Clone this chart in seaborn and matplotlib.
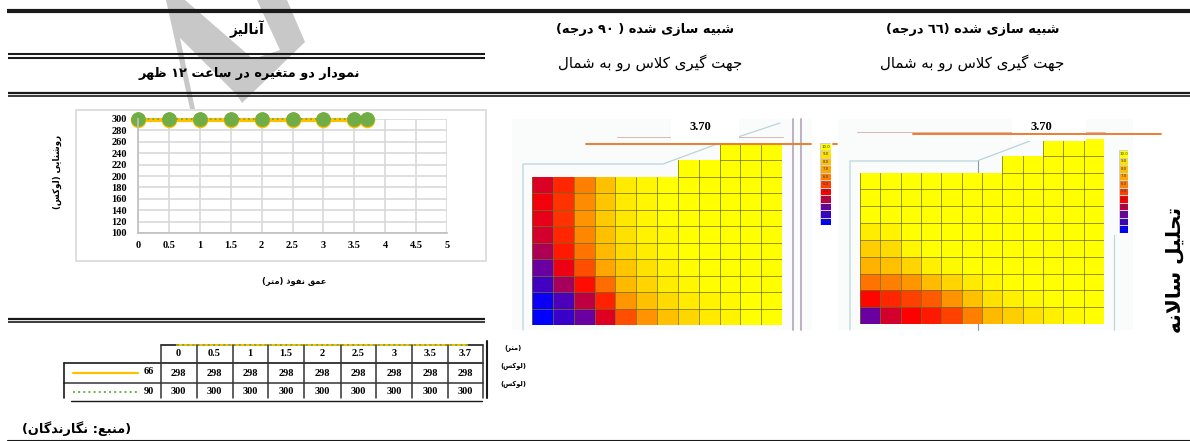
import unicodedata

import matplotlib
matplotlib.use("Agg")
from matplotlib import pyplot as plt
from matplotlib.colors import LinearSegmentedColormap
from matplotlib.patches import Polygon, Rectangle
import numpy as np
import pandas as pd
import seaborn as sns

W, H = 1190, 441

# chart data
depth = [0, 0.5, 1, 1.5, 2, 2.5, 3, 3.5, 3.7]
lux_66 = [298, 298, 298, 298, 298, 298, 298, 298, 298]
lux_90 = [300, 300, 300, 300, 300, 300, 300, 300, 300]
x_ticks = [0, 0.5, 1, 1.5, 2, 2.5, 3, 3.5, 4, 4.5, 5]
y_ticks = [100, 120, 140, 160, 180, 200, 220, 240, 260, 280, 300]

# simulation grids, 0 = blue ... 10 = yellow, nan = outside the room
n = np.nan
grid_90 = [
    [n, n, n, n, n, n, n, n, n, 10, 10, 10],
    [n, n, n, n, n, n, n, 10, 10, 10, 10, 10],
    [3.4, 4.6, 6, 8, 9.3, 9.7, 10, 10, 10, 10, 10, 10],
    [3.8, 4.8, 6.3, 8.2, 9.3, 9.7, 10, 10, 10, 10, 10, 10],
    [3.6, 4.8, 6.5, 8.3, 9.2, 9.7, 10, 10, 10, 10, 10, 10],
    [3.3, 4.6, 6.2, 8, 9, 9.6, 9.8, 10, 10, 10, 10, 10],
    [2.8, 4.4, 5.8, 7.7, 8.8, 9.4, 9.8, 10, 10, 10, 10, 10],
    [2, 3.7, 5.2, 7, 8.2, 9, 9.6, 9.9, 10, 10, 10, 10],
    [1.2, 2.7, 4.2, 5.7, 7.7, 8.6, 9.4, 9.7, 9.9, 10, 10, 10],
    [0.2, 1.4, 3, 4.5, 6.6, 8, 8.8, 9.3, 9.6, 9.8, 10, 10],
    [0, 1, 2, 3.5, 5.2, 6.5, 8, 8.7, 9.3, 9.6, 10, 10],
]
grid_66 = [
    [n, n, n, n, n, n, n, n, n, 10, 10, 10],
    [n, n, n, n, n, n, n, 10, 10, 10, 10, 10],
    [10, 10, 10, 10, 10, 10, 10, 10, 10, 10, 10, 10],
    [10, 10, 10, 10, 10, 10, 10, 10, 10, 10, 10, 10],
    [10, 10, 10, 10, 10, 10, 10, 10, 10, 10, 10, 10],
    [9.4, 9.6, 10, 10, 10, 10, 10, 10, 10, 10, 10, 10],
    [8.4, 8.8, 9.7, 10, 10, 10, 10, 10, 10, 10, 10, 10],
    [7.5, 8, 8.6, 9.5, 9.8, 10, 10, 10, 10, 10, 10, 10],
    [5.8, 6, 6.6, 7.8, 8.6, 9.3, 9.7, 10, 10, 10, 10, 10],
    [4.1, 4.6, 5, 5.4, 6.5, 8, 9, 9.5, 9.8, 10, 10, 10],
    [2, 3.3, 4, 4.4, 5, 6, 7.7, 8.4, 9, 9.5, 9.8, 10],
]
scale_levels = [10, 9, 8, 7, 6, 5, 4, 3, 2, 1, 0]
scale_colors = ["#0000ff", "#3a00c8", "#6a00a0", "#c00040", "#ff0000", "#ff4000",
                "#ff8000", "#ffa500", "#ffc000", "#ffe000", "#ffff00"]

# texts
head_analysis = "آنالیز"
head_chart = "نمودار دو متغیره در ساعت ۱۲ ظهر"
head_90 = "شبیه سازی شده ( ۹۰ درجه)"
head_66 = "شبیه سازی شده (٦٦ درجه)"
sub_head = "جهت گیری کلاس رو به شمال"
y_title = "روشنایی (لوکس)"
x_title = "عمق نفوذ (متر)"
source = "(منبع: نگارندگان)"
side_title = "تحلیل سالانه"
unit_m = "(متر)"
unit_lux = "(لوکس)"

ORANGE = "#ffc000"
GREEN = "#70ad47"
LINE = "#ed7d31"
PALE = "#b9d5da"

# presentation forms, taken from the unicode tables
forms = {}
for cp in range(0xFB50, 0xFEFD):
    parts = unicodedata.decomposition(chr(cp)).split()
    if len(parts) == 2 and parts[0] in ("<isolated>", "<final>", "<initial>", "<medial>"):
        forms.setdefault((chr(int(parts[1], 16)), parts[0].strip("<>")), chr(cp))

no_left_join = set("اآدذرزژوؤأإ")


def fa(text):
    # matplotlib does no shaping, so join the letters and flip the line by hand
    text = text.replace("لا", "\ufefb")
    is_letter = lambda c: (c, "isolated") in forms or c == "\ufefb"
    out = []
    for i, c in enumerate(text):
        before = text[i - 1] if i > 0 else " "
        after = text[i + 1] if i + 1 < len(text) else " "
        joins_prev = is_letter(before) and before not in no_left_join and before != "\ufefb"
        joins_next = is_letter(after) and c not in no_left_join
        if c == "\ufefb":
            out.append("\ufefc" if joins_prev else "\ufefb")
        elif not is_letter(c):
            out.append({"(": ")", ")": "("}.get(c, c))
        else:
            if joins_prev and joins_next:
                form = "medial"
            elif joins_prev:
                form = "final"
            elif joins_next:
                form = "initial"
            else:
                form = "isolated"
            out.append(forms.get((c, form), forms[(c, "isolated")]))
    out = out[::-1]
    # digits keep their own direction
    i = 0
    while i < len(out):
        if out[i].isdigit():
            j = i
            while j < len(out) and out[j].isdigit():
                j += 1
            out[i:j] = out[i:j][::-1]
            i = j
        else:
            i += 1
    return "".join(out)


def px_axes(fig, x0, y0, x1, y1):
    return fig.add_axes([x0 / W, 1 - y1 / H, (x1 - x0) / W, (y1 - y0) / H])


def room(fig, grid, x0, y0, x1, y1, bar):
    values = np.array(grid)
    ax = px_axes(fig, x0, y0, x1, y1)
    sns.heatmap(pd.DataFrame(grid), ax=ax, cmap=cmap, vmin=0, vmax=10, cbar=False,
                xticklabels=False, yticklabels=False, mask=np.isnan(values))
    ax.set_facecolor("none")
    # thin dark edge on the left and bottom of each cell
    for r, c in zip(*np.where(~np.isnan(values))):
        ax.plot([c, c, c + 1], [r, r + 1, r + 1], color="#6f6f28", lw=0.7, alpha=0.75)
    cax = px_axes(fig, *bar)
    sns.heatmap(pd.DataFrame({"v": scale_levels}), ax=cax, cmap=cmap, vmin=0, vmax=10, cbar=False,
                xticklabels=False, yticklabels=False, linewidths=0.5, linecolor="#d0d0d0",
                annot=[[f"{v}.0"] for v in scale_levels], fmt="", annot_kws={"fontsize": 2.8, "color": "#333333"})


sns.set_theme(style="white")
plt.rcParams["font.family"] = ["DejaVu Sans"]
plt.rcParams["text.color"] = "black"
plt.rcParams["xtick.color"] = "black"
plt.rcParams["ytick.color"] = "black"
cmap = LinearSegmentedColormap.from_list("lux", scale_colors)

fig = plt.figure(figsize=(W / 100, H / 100), dpi=100)

# page layer in pixel coordinates
page = fig.add_axes([0, 0, 1, 1])
page.set_xlim(0, W)
page.set_ylim(H, 0)
page.axis("off")

# watermark
page.add_patch(Polygon([(166, 0), (185, 0), (253, 59), (280, 50), (257, 0), (287, 0), (305, 42),
                        (242, 103), (237, 95), (180, 38), (195, 109), (190, 109)],
                       closed=True, color="#c8c8c8", lw=0, zorder=0))

# rules
page.plot([7, W], [11, 11], color="k", lw=3.0, solid_capstyle="butt")
page.plot([8, 485], [54, 54], color="k", lw=1.5, solid_capstyle="butt")
page.plot([8, 485], [57.5, 57.5], color="k", lw=1.5, solid_capstyle="butt")
page.plot([8, W], [93, 93], color="k", lw=1.6, solid_capstyle="butt")
page.plot([8, W], [96, 96], color="k", lw=1.2, solid_capstyle="butt")
page.plot([8, 485], [318.5, 318.5], color="k", lw=1.6, solid_capstyle="butt")
page.plot([8, 485], [322, 322], color="k", lw=1.2, solid_capstyle="butt")
page.plot([7, W], [440, 440], color="k", lw=0.8)

# headers
page.text(247, 29, fa(head_analysis), ha="center", va="center", fontsize=10, fontweight="bold")
page.text(249, 73, fa(head_chart), ha="center", va="center", fontsize=9.3, fontweight="bold")
page.text(645, 30, fa(head_90), ha="center", va="center", fontsize=9.4, fontweight="bold")
page.text(650, 63, fa(sub_head), ha="center", va="center", fontsize=10.8)
page.text(973, 30, fa(head_66), ha="center", va="center", fontsize=9.4, fontweight="bold")
page.text(972, 63, fa(sub_head), ha="center", va="center", fontsize=10.8)
page.text(1175, 270, fa(side_title), ha="center", va="center", rotation=90, fontsize=14.5, fontweight="bold")

# pale drawing behind the simulation pictures
page.add_patch(Rectangle((512, 119), 300, 211, color="#fafbfb", lw=0))
page.plot([523, 523, 663, 720, 780], [330, 164, 164, 143, 123], color=PALE, lw=0.9)
page.plot([617, 783], [137, 137], color="#d8b8b0", lw=0.7)
for x in (793, 801):
    page.plot([x, x], [119, 330], color="#b8a8c0", lw=1.3)
page.add_patch(Rectangle((838, 119), 295, 211, color="#fafbfb", lw=0))
page.plot([850, 850, 977, 1030], [330, 161, 161, 141], color=PALE, lw=0.9)
page.plot([978, 978], [161, 330], color="#8a9aa0", lw=0.8)
page.plot([1114, 1114], [235, 330], color=PALE, lw=0.8)
page.plot([857, 1105], [132, 132], color="#d8b8b0", lw=0.7)

# chart frame and side titles
page.add_patch(Rectangle((75.5, 109.5), 410, 151, fill=False, ec="#d9d9d9", lw=1.2))
page.text(57, 172, fa(y_title), ha="center", va="center", rotation=90, fontsize=6.2, fontweight="bold")
page.text(294, 281, fa(x_title), ha="center", va="center", fontsize=6, fontweight="bold")
page.text(77, 429, fa(source), ha="center", va="center", fontsize=9.3, fontweight="bold")

# line chart
ax = px_axes(fig, 138, 119, 447, 233)
ax.set_facecolor("none")
data = pd.DataFrame({"depth": depth, "lux_66": lux_66, "lux_90": lux_90})
sns.lineplot(data=data, x="depth", y="lux_66", ax=ax, color=ORANGE, lw=3, marker="o", ms=10.4,
             mec=ORANGE, mfc=ORANGE, clip_on=False)
sns.lineplot(data=data, x="depth", y="lux_90", ax=ax, color=GREEN, lw=1.3, ls=":", marker="o", ms=9.8,
             mec=GREEN, mfc=GREEN, clip_on=False)
ax.set_xlim(0, 5)
ax.set_ylim(100, 300)
ax.set_xticks(x_ticks)
ax.set_xticklabels([f"{t:g}" for t in x_ticks])
ax.set_yticks(y_ticks)
ax.grid(True, color="#d9d9d9", lw=1.2)
ax.set_xlabel("")
ax.set_ylabel("")
for s in ("top", "right"):
    ax.spines[s].set_visible(False)
for s in ("left", "bottom"):
    ax.spines[s].set_color("#bfbfbf")
    ax.spines[s].set_linewidth(1.2)
ax.tick_params(length=0, pad=6)
ax.tick_params(axis="y", pad=8)
for lab in ax.get_xticklabels() + ax.get_yticklabels():
    lab.set_family("Liberation Serif")
    lab.set_fontweight("bold")
    lab.set_fontsize(7.5)

# simulation pictures
room(fig, grid_90, 532, 144, 782, 325, (820, 143, 831, 225))
room(fig, grid_66, 860, 139, 1104, 324, (1119, 150, 1128, 233))

# top layer: orange level lines and the 3.70 labels
top = fig.add_axes([0, 0, 1, 1])
top.set_xlim(0, W)
top.set_ylim(H, 0)
top.axis("off")
top.add_patch(Rectangle((671, 119), 68, 24, color="w", lw=0))
top.add_patch(Rectangle((1012, 119), 74, 22, color="w", lw=0))
top.plot([586, 811], [144, 144], color=LINE, lw=1.4)
top.plot([833, 837], [144, 144], color=LINE, lw=1.4)
top.plot([913, 1161], [134, 134], color=LINE, lw=1.4)
top.text(700, 127, "3.70", ha="center", va="center", family="Liberation Serif", fontweight="bold", fontsize=9)
top.text(1041, 127, "3.70", ha="center", va="center", family="Liberation Serif", fontweight="bold", fontsize=9)

# data table under the chart
col_x = [160.5, 196.5, 232.5, 268, 304, 341, 376, 412, 448, 483]
row_y = [345, 363, 383, 401]
top.plot([160.5, 483], [row_y[0], row_y[0]], color="k", lw=1.2)
top.plot([177, 467], [row_y[0], row_y[0]], color=ORANGE, lw=1.4)
top.plot([177, 467], [row_y[0], row_y[0]], color=GREEN, lw=1.4, ls=":")
top.plot([63.5, 483], [row_y[1], row_y[1]], color="k", lw=1.2)
top.plot([63.5, 483], [row_y[2], row_y[2]], color="#444444", lw=1.2)
top.plot([71, 482], [row_y[3], row_y[3]], color="k", lw=1.0)
top.plot([63.5, 63.5], [row_y[1], 398], color="k", lw=1.2)
for x in col_x:
    top.plot([x, x], [row_y[0], 398], color="#333333", lw=1.1)
top.plot([487, 487], [341, 398], color="k", lw=1.5)
top.plot([73, 138], [373, 373], color=ORANGE, lw=1.6)
top.plot([73, 138], [392, 392], color=GREEN, lw=1.4, ls=":")
for y, label in ((373, "66"), (392, "90")):
    top.text(149, y - 1, label, ha="center", va="center", family="Liberation Serif", fontweight="bold", fontsize=7.5)
for i in range(len(depth)):
    cx = (col_x[i] + col_x[i + 1]) / 2
    for y, v in ((353, f"{depth[i]:g}"), (373, lux_66[i]), (392, lux_90[i])):
        top.text(cx, y, str(v), ha="center", va="center", family="Liberation Serif", fontweight="bold", fontsize=7.5)
for y, label in ((348, unit_m), (366, unit_lux), (384, unit_lux)):
    top.text(513, y, fa(label), ha="center", va="center", fontsize=4.8, fontweight="bold")

fig.savefig("out.png", dpi=100)
